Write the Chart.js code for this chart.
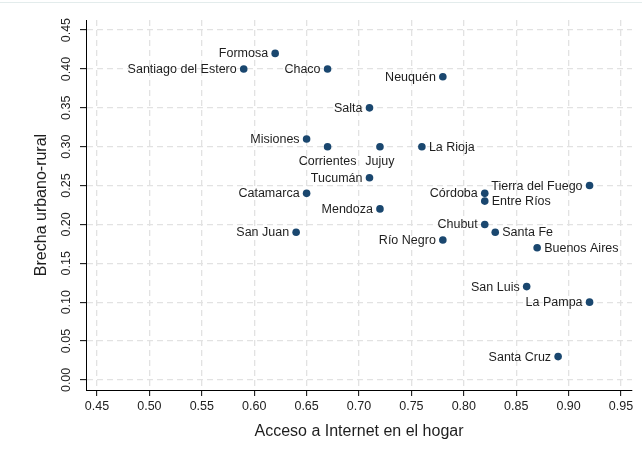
<!DOCTYPE html>
<html>
<head>
<meta charset="utf-8">
<script src="https://cdn.jsdelivr.net/npm/chart.js@4/dist/chart.umd.min.js"></script>
<style>
html, body { margin: 0; padding: 0; background: #ffffff; }
#wrap { position: relative; width: 642px; height: 470px; }
#topline { position: absolute; left: 0; top: 2px; width: 642px; height: 1px; background: #e3ecec; }
canvas { display: block; }
</style>
</head>
<body>
<div id="wrap">
  <canvas id="c" width="642" height="470"></canvas>
  <div id="topline"></div>
</div>
<script>
// ---- Data ----
const provinces = [
  "Formosa", "Santiago del Estero", "Chaco", "Neuquén", "Salta", "Misiones",
  "Corrientes", "Jujuy", "La Rioja", "Tucumán", "Catamarca", "Córdoba",
  "Entre Ríos", "Tierra del Fuego", "Mendoza", "Chubut", "Santa Fe", "San Juan",
  "Río Negro", "Buenos Aires", "San Luis", "La Pampa", "Santa Cruz"
];
const internetAccess = [
  0.62, 0.59, 0.67, 0.78, 0.71, 0.65,
  0.67, 0.72, 0.76, 0.71, 0.65, 0.82,
  0.82, 0.92, 0.72, 0.82, 0.83, 0.64,
  0.78, 0.87, 0.86, 0.92, 0.89
];
const urbanRuralGap = [
  0.42, 0.40, 0.40, 0.39, 0.35, 0.31,
  0.30, 0.30, 0.30, 0.26, 0.24, 0.24,
  0.23, 0.25, 0.22, 0.20, 0.19, 0.19,
  0.18, 0.17, 0.12, 0.10, 0.03
];
const xTickValues = [0.45, 0.50, 0.55, 0.60, 0.65, 0.70, 0.75, 0.80, 0.85, 0.90, 0.95];
const yTickValues = [0.00, 0.05, 0.10, 0.15, 0.20, 0.25, 0.30, 0.35, 0.40, 0.45];

// Label placement (style only)
const labelPlacement = {
  "La Rioja": "right", "Entre Ríos": "right", "Santa Fe": "right", "Buenos Aires": "right",
  "Corrientes": "below", "Jujuy": "below"
};

const FONT = '"Liberation Sans", Arial, sans-serif';

const pointLabels = {
  id: 'pointLabels',
  afterDatasetsDraw(chart) {
    const ctx = chart.ctx;
    const meta = chart.getDatasetMeta(0);
    ctx.save();
    ctx.font = '12.5px ' + FONT;
    ctx.fillStyle = '#1e1e1e';
    meta.data.forEach((pt, i) => {
      const name = provinces[i];
      const place = labelPlacement[name] || 'left';
      if (place === 'left') {
        ctx.textAlign = 'right'; ctx.textBaseline = 'middle';
        ctx.fillText(name, pt.x - 7, pt.y + 0.5);
      } else if (place === 'right') {
        ctx.textAlign = 'left'; ctx.textBaseline = 'middle';
        ctx.fillText(name, pt.x + 7, pt.y + 0.5);
      } else {
        ctx.textAlign = 'center'; ctx.textBaseline = 'middle';
        ctx.fillText(name, pt.x, pt.y + 15);
      }
    });
    ctx.restore();
  }
};

const points = internetAccess.map((x, i) => ({ x: x, y: urbanRuralGap[i] }));

new Chart(document.getElementById('c'), {
  type: 'scatter',
  data: {
    datasets: [{
      data: points,
      backgroundColor: '#1a476f',
      borderColor: '#1a476f',
      borderWidth: 0,
      pointRadius: 3.8,
      pointHoverRadius: 3.8
    }]
  },
  options: {
    responsive: false,
    animation: false,
    devicePixelRatio: 1,
    layout: { padding: { top: 20, right: 10, left: 0, bottom: 0 } },
    plugins: { legend: { display: false }, tooltip: { enabled: false } },
    scales: {
      x: {
        type: 'linear',
        min: 0.4395,
        max: 0.9605,
        afterBuildTicks: (axis) => { axis.ticks = xTickValues.map(v => ({ value: v })); },
        afterFit: (scale) => { scale.height = 80; },
        ticks: {
          callback: (v) => Number(v).toFixed(2),
          font: { size: 12.5, family: FONT },
          color: '#222222',
          padding: 3,
          autoSkip: false,
          maxRotation: 0,
          minRotation: 0
        },
        grid: {
          color: '#e2e2e2',
          lineWidth: 1.3,
          tickColor: '#000000',
          tickLength: 6,
          tickWidth: 1
        },
        border: { display: true, color: '#000000', width: 1, dash: [6, 4] },
        title: {
          display: true,
          text: 'Acceso a Internet en el hogar',
          font: { size: 16, family: FONT },
          color: '#1e1e1e',
          padding: { top: 0, bottom: 29 }
        }
      },
      y: {
        type: 'linear',
        min: -0.013,
        max: 0.463,
        afterBuildTicks: (axis) => { axis.ticks = yTickValues.map(v => ({ value: v })); },
        afterFit: (scale) => { scale.width = 86; },
        ticks: {
          callback: (v) => Number(v).toFixed(2),
          font: { size: 12.5, family: FONT },
          color: '#222222',
          padding: 1,
          autoSkip: false,
          minRotation: 90,
          maxRotation: 90,
          crossAlign: 'center'
        },
        grid: {
          color: '#e2e2e2',
          lineWidth: 1.3,
          tickColor: '#000000',
          tickLength: 6,
          tickWidth: 1
        },
        border: { display: true, color: '#000000', width: 1, dash: [6, 4] },
        title: {
          display: true,
          text: 'Brecha urbano-rural',
          font: { size: 16, family: FONT },
          color: '#1e1e1e',
          padding: { top: 32, bottom: 0 }
        }
      }
    }
  },
  plugins: [pointLabels]
});
</script>
</body>
</html>
